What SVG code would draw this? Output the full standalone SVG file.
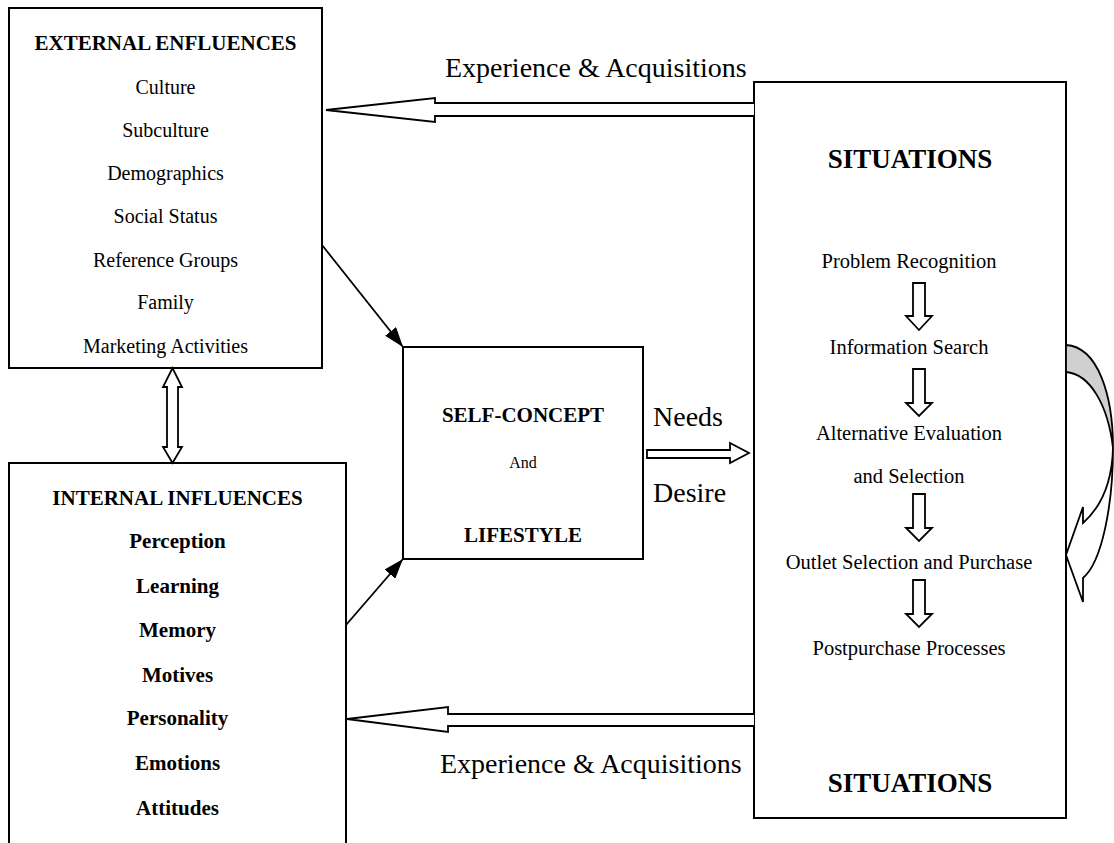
<svg xmlns="http://www.w3.org/2000/svg" width="1114" height="843" viewBox="0 0 1114 843">
<defs>
<style>
.box{fill:#fff;stroke:#000;stroke-width:2}
.blk{fill:none;stroke:#000;stroke-width:2}
.hol{fill:#fff;stroke:#000;stroke-width:1.8;stroke-linejoin:miter}
.t{font-family:"Liberation Serif","Times New Roman",serif;fill:#000;text-anchor:middle}
.r{font-size:20px}
.s{font-size:20.5px}
.b{font-size:21px;font-weight:bold}
.h{font-size:27px;font-weight:bold}
.big{font-family:"Liberation Serif","Times New Roman",serif;fill:#000;font-size:28px}
</style>
<marker id="ahb" viewBox="0 0 20 14" refX="20" refY="7" markerWidth="20" markerHeight="14" markerUnits="userSpaceOnUse" orient="auto">
<path d="M0,0 L20,7 L0,14 z" fill="#000"/>
</marker>
</defs>

<g id="external">
<rect class="box" x="9" y="8" width="313" height="360"/>
<text class="t b" x="165.5" y="50">EXTERNAL ENFLUENCES</text>
<text class="t r" x="165.5" y="94">Culture</text>
<text class="t r" x="165.5" y="137">Subculture</text>
<text class="t r" x="165.5" y="180">Demographics</text>
<text class="t r" x="165.5" y="223">Social Status</text>
<text class="t r" x="165.5" y="267">Reference Groups</text>
<text class="t r" x="165.5" y="309">Family</text>
<text class="t r" x="165.5" y="353">Marketing Activities</text>
</g>

<g id="internal">
<path class="blk" d="M9,850 V463 H346 V850"/>
<text class="t b" x="177.5" y="505">INTERNAL INFLUENCES</text>
<text class="t b" x="177.5" y="548">Perception</text>
<text class="t b" x="177.5" y="593">Learning</text>
<text class="t b" x="177.5" y="637">Memory</text>
<text class="t b" x="177.5" y="682">Motives</text>
<text class="t b" x="177.5" y="725">Personality</text>
<text class="t b" x="177.5" y="770">Emotions</text>
<text class="t b" x="177.5" y="815">Attitudes</text>
</g>

<g id="selfconcept">
<rect class="box" x="403" y="347" width="240" height="212"/>
<text class="t b" x="523" y="422">SELF-CONCEPT</text>
<text class="t" x="523" y="468" font-size="16">And</text>
<text class="t b" x="523" y="542">LIFESTYLE</text>
</g>

<g id="situations">
<rect class="box" x="754" y="82" width="312" height="736"/>
<text class="t h" x="910" y="168">SITUATIONS</text>
<text class="t s" x="909" y="268">Problem Recognition</text>
<text class="t s" x="909" y="354">Information Search</text>
<text class="t s" x="909" y="440">Alternative Evaluation</text>
<text class="t s" x="909" y="483">and Selection</text>
<text class="t s" x="909" y="569">Outlet Selection and Purchase</text>
<text class="t s" x="909" y="655">Postpurchase Processes</text>
<text class="t h" x="910" y="792">SITUATIONS</text>
<path class="hol" d="M913,283 H925 V316 H932 L919,330 L906,316 H913 Z"/>
<path class="hol" d="M913,369 H925 V403 H932 L919,416 L906,403 H913 Z"/>
<path class="hol" d="M913,494 H925 V528 H932 L919,541 L906,528 H913 Z"/>
<path class="hol" d="M913,580 H925 V614 H932 L919,627 L906,614 H913 Z"/>
</g>

<g id="labels">
<text class="big" x="445" y="77">Experience &amp; Acquisitions</text>
<text class="big" x="653" y="426">Needs</text>
<text class="big" x="653" y="502">Desire</text>
<text class="big" x="440" y="773">Experience &amp; Acquisitions</text>
</g>

<g id="connectors">
<path d="M1066,345 C1098,347 1113,395 1113,448 C1108,405 1090,374 1066,372 Z" fill="#d0d0d0" stroke="#000" stroke-width="1.8"/>
<path d="M1113,448 C1113,505 1102,562 1083,578 V602 L1066,555 L1083,507 V523 C1100,508 1112,485 1113,448 Z" fill="#fff" stroke="#000" stroke-width="1.8" stroke-linejoin="miter"/>
<path class="hol" d="M754,103 H435 V98 L326,110 L435,122 V116 H754"/>
<path class="hol" d="M754,714 H448 V707 L347,719 L448,732 V726 H754"/>
<path class="hol" d="M647,450 H730 V443 L749,453 L730,463 V458 H647 Z"/>
<path class="hol" d="M167,387 H163 L172.5,368 L182,387 H178 V447 H182 L172.5,463 L163,447 H167 Z"/>
<line x1="322" y1="245" x2="403" y2="347" stroke="#000" stroke-width="1.8" marker-end="url(#ahb)"/>
<line x1="346" y1="625" x2="403" y2="559" stroke="#000" stroke-width="1.8" marker-end="url(#ahb)"/>
</g>
</svg>
